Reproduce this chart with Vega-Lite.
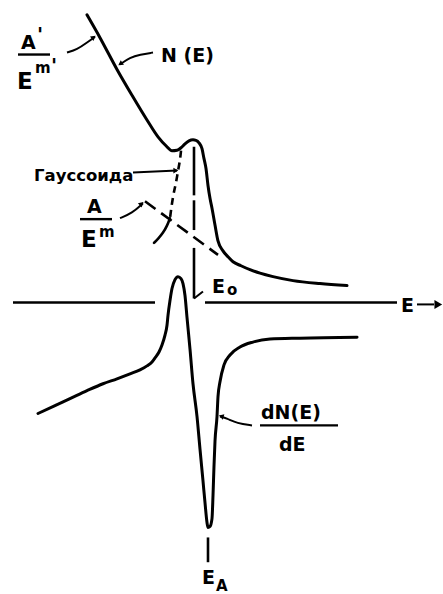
{
  "$schema": "https://vega.github.io/schema/vega-lite/v6.json",
  "width": 443,
  "height": 594,
  "padding": 0,
  "autosize": {"type": "fit", "contains": "padding"},
  "background": "white",
  "config": {"view": {"stroke": null}},
  "datasets": {
    "curves": [
      {"s": "N", "x": 87, "y": 290}, {"s": "N", "x": 100, "y": 267}, {"s": "N", "x": 117, "y": 235},
      {"s": "N", "x": 132, "y": 209}, {"s": "N", "x": 147, "y": 184}, {"s": "N", "x": 158, "y": 167},
      {"s": "N", "x": 166, "y": 158}, {"s": "N", "x": 172, "y": 153}, {"s": "N", "x": 177, "y": 153.5},
      {"s": "N", "x": 181, "y": 156}, {"s": "N", "x": 185, "y": 160}, {"s": "N", "x": 189, "y": 163},
      {"s": "N", "x": 193, "y": 164}, {"s": "N", "x": 196, "y": 163.5}, {"s": "N", "x": 199, "y": 161},
      {"s": "N", "x": 202, "y": 155}, {"s": "N", "x": 204, "y": 145}, {"s": "N", "x": 206, "y": 135},
      {"s": "N", "x": 208, "y": 118}, {"s": "N", "x": 210, "y": 105}, {"s": "N", "x": 212, "y": 95},
      {"s": "N", "x": 215, "y": 78}, {"s": "N", "x": 218, "y": 62}, {"s": "N", "x": 223, "y": 52},
      {"s": "N", "x": 228, "y": 46}, {"s": "N", "x": 233, "y": 41}, {"s": "N", "x": 241, "y": 37},
      {"s": "N", "x": 250, "y": 33}, {"s": "N", "x": 260, "y": 29.5}, {"s": "N", "x": 273, "y": 26},
      {"s": "N", "x": 293, "y": 22}, {"s": "N", "x": 320, "y": 19}, {"s": "N", "x": 347, "y": 17},

      {"s": "D", "x": 38, "y": -112}, {"s": "D", "x": 55, "y": -104}, {"s": "D", "x": 70, "y": -97},
      {"s": "D", "x": 87, "y": -89}, {"s": "D", "x": 103, "y": -82}, {"s": "D", "x": 117, "y": -77},
      {"s": "D", "x": 130, "y": -72}, {"s": "D", "x": 140, "y": -68}, {"s": "D", "x": 147, "y": -64},
      {"s": "D", "x": 152, "y": -60}, {"s": "D", "x": 155, "y": -56}, {"s": "D", "x": 159, "y": -50},
      {"s": "D", "x": 162, "y": -43}, {"s": "D", "x": 165, "y": -33}, {"s": "D", "x": 167, "y": -23},
      {"s": "D", "x": 168, "y": -13}, {"s": "D", "x": 170, "y": 2}, {"s": "D", "x": 172, "y": 14},
      {"s": "D", "x": 175, "y": 23}, {"s": "D", "x": 178, "y": 26}, {"s": "D", "x": 181, "y": 24},
      {"s": "D", "x": 183, "y": 19}, {"s": "D", "x": 185, "y": 7}, {"s": "D", "x": 187, "y": -15},
      {"s": "D", "x": 190, "y": -47}, {"s": "D", "x": 193, "y": -82}, {"s": "D", "x": 197, "y": -115},
      {"s": "D", "x": 200, "y": -148}, {"s": "D", "x": 203, "y": -180}, {"s": "D", "x": 205, "y": -202},
      {"s": "D", "x": 207, "y": -222}, {"s": "D", "x": 208, "y": -227}, {"s": "D", "x": 210, "y": -226},
      {"s": "D", "x": 212, "y": -218}, {"s": "D", "x": 213, "y": -195}, {"s": "D", "x": 214, "y": -165},
      {"s": "D", "x": 215, "y": -140}, {"s": "D", "x": 217, "y": -115}, {"s": "D", "x": 218, "y": -95},
      {"s": "D", "x": 220, "y": -80}, {"s": "D", "x": 224, "y": -63}, {"s": "D", "x": 230, "y": -53},
      {"s": "D", "x": 240, "y": -45}, {"s": "D", "x": 253, "y": -40}, {"s": "D", "x": 270, "y": -37},
      {"s": "D", "x": 300, "y": -36}, {"s": "D", "x": 357, "y": -35}
    ],
    "gauss": [
      {"s": "dash", "i": 0, "x": 181, "y": 153}, {"s": "dash", "i": 1, "x": 180, "y": 143},
      {"s": "dash", "i": 2, "x": 178, "y": 133}, {"s": "dash", "i": 3, "x": 176, "y": 120},
      {"s": "dash", "i": 4, "x": 173, "y": 108}, {"s": "dash", "i": 5, "x": 170, "y": 85},
      {"s": "solid", "i": 0, "x": 170, "y": 85}, {"s": "solid", "i": 1, "x": 167, "y": 77},
      {"s": "solid", "i": 2, "x": 163, "y": 70}, {"s": "solid", "i": 3, "x": 158, "y": 64},
      {"s": "solid", "i": 4, "x": 154, "y": 60}
    ],
    "powerlaw": [
      {"x": 145, "y": 102}, {"x": 218, "y": 48}
    ],
    "leaders": [
      {"s": "a1", "i": 0, "x": 67, "y": 252}, {"s": "a1", "i": 1, "x": 77, "y": 255},
      {"s": "a1", "i": 2, "x": 87, "y": 262}, {"s": "a1", "i": 3, "x": 95, "y": 268},
      {"s": "n", "i": 0, "x": 153, "y": 252}, {"s": "n", "i": 1, "x": 140, "y": 250},
      {"s": "n", "i": 2, "x": 130, "y": 247}, {"s": "n", "i": 3, "x": 120, "y": 240},
      {"s": "g", "i": 0, "x": 133, "y": 131}, {"s": "g", "i": 1, "x": 177, "y": 133},
      {"s": "a", "i": 0, "x": 120, "y": 85}, {"s": "a", "i": 1, "x": 132, "y": 90},
      {"s": "a", "i": 2, "x": 143, "y": 100},
      {"s": "d", "i": 0, "x": 252, "y": -124}, {"s": "d", "i": 1, "x": 237, "y": -122},
      {"s": "d", "i": 2, "x": 227, "y": -117}, {"s": "d", "i": 3, "x": 220, "y": -115},
      {"s": "e0", "i": 0, "x": 194, "y": 4}, {"s": "e0", "i": 1, "x": 203, "y": 11},
      {"s": "ax", "i": 0, "x": 417, "y": -2}, {"s": "ax", "i": 1, "x": 434, "y": -2}
    ],
    "heads": [
      {"x": 93, "y": 267, "a": 53}, {"x": 121, "y": 241, "a": 235},
      {"x": 175, "y": 133, "a": 90}, {"x": 141, "y": 99, "a": 48},
      {"x": 222, "y": -115, "a": 286}
    ],
    "axisHead": [{"x": 437, "y": -2, "a": 90}],
    "hbars": [
      {"x": 13, "x2": 155, "y": 0}, {"x": 205, "x2": 397, "y": 0},
      {"x": 18, "x2": 50, "y": 250}, {"x": 80, "x2": 112, "y": 84},
      {"x": 260, "x2": 338, "y": -124}
    ],
    "vsegs": [
      {"x": 194, "y": 157, "y2": 108}, {"x": 194, "y": 103, "y2": 73},
      {"x": 194, "y": 55, "y2": 4}, {"x": 208, "y": -237, "y2": -262}
    ],
    "labels": [
      {"t": "A", "x": 21, "y": 256}, {"t": "N (E)", "x": 161, "y": 242},
      {"t": "A", "x": 87, "y": 90},
      {"t": "E", "x": 212, "y": 10}, {"t": "E", "x": 401, "y": -10},
      {"t": "dN(E)", "x": 261, "y": -118}, {"t": "dE", "x": 279, "y": -150},
      {"t": "E", "x": 202, "y": -284}
    ],
    "bigE": [
      {"t": "E", "x": 17, "y": 215}, {"t": "E", "x": 81, "y": 56}
    ],
    "small": [
      {"t": "m", "x": 35, "y": 231}, {"t": "m", "x": 99, "y": 66},
      {"t": "o", "x": 227, "y": 7}, {"t": "A", "x": 216, "y": -291}
    ],
    "primes": [
      {"t": "'", "x": 37, "y": 280}, {"t": "'", "x": 51, "y": 249}
    ],
    "gaussLabel": [{"t": "Гауссоида", "x": 34, "y": 122}]
  },
  "encoding": {
    "x": {"field": "x", "type": "quantitative", "scale": {"domain": [0, 443], "nice": false, "zero": false}, "axis": null},
    "y": {"field": "y", "type": "quantitative", "scale": {"domain": [-289, 305], "nice": false, "zero": false}, "axis": null}
  },
  "layer": [
    {
      "data": {"name": "curves"},
      "mark": {"type": "line", "color": "black", "strokeWidth": 3, "interpolate": "monotone", "strokeCap": "round"},
      "encoding": {"detail": {"field": "s"}}
    },
    {
      "data": {"name": "gauss"},
      "transform": [{"filter": "datum.s === 'dash'"}],
      "mark": {"type": "line", "color": "black", "strokeWidth": 2.6, "interpolate": "basis", "strokeDash": [7, 5]},
      "encoding": {"order": {"field": "i"}}
    },
    {
      "data": {"name": "gauss"},
      "transform": [{"filter": "datum.s === 'solid'"}],
      "mark": {"type": "line", "color": "black", "strokeWidth": 2.6, "interpolate": "basis", "strokeCap": "round"},
      "encoding": {"order": {"field": "i"}}
    },
    {
      "data": {"name": "powerlaw"},
      "mark": {"type": "line", "color": "black", "strokeWidth": 2.6, "strokeDash": [13, 7]},
      "encoding": {}
    },
    {
      "data": {"name": "leaders"},
      "mark": {"type": "line", "color": "black", "strokeWidth": 2, "interpolate": "basis"},
      "encoding": {"detail": {"field": "s"}, "order": {"field": "i"}}
    },
    {
      "data": {"name": "heads"},
      "mark": {"type": "point", "shape": "triangle", "filled": true, "color": "black", "size": 32, "opacity": 1},
      "encoding": {"angle": {"field": "a", "type": "quantitative", "scale": null}}
    },
    {
      "data": {"name": "axisHead"},
      "mark": {"type": "point", "shape": "triangle", "filled": true, "color": "black", "size": 80, "opacity": 1},
      "encoding": {"angle": {"field": "a", "type": "quantitative", "scale": null}}
    },
    {
      "data": {"name": "hbars"},
      "mark": {"type": "rule", "color": "black", "strokeWidth": 2.4},
      "encoding": {"x2": {"field": "x2"}}
    },
    {
      "data": {"name": "vsegs"},
      "mark": {"type": "rule", "color": "black", "strokeWidth": 2.6},
      "encoding": {"y2": {"field": "y2"}}
    },
    {
      "data": {"name": "labels"},
      "mark": {"type": "text", "font": "DejaVu Sans", "fontWeight": "bold", "fontSize": 19, "align": "left", "baseline": "alphabetic", "color": "black"},
      "encoding": {"text": {"field": "t"}}
    },
    {
      "data": {"name": "bigE"},
      "mark": {"type": "text", "font": "DejaVu Sans", "fontWeight": "bold", "fontSize": 23, "align": "left", "baseline": "alphabetic", "color": "black"},
      "encoding": {"text": {"field": "t"}}
    },
    {
      "data": {"name": "small"},
      "mark": {"type": "text", "font": "DejaVu Sans", "fontWeight": "bold", "fontSize": 15, "align": "left", "baseline": "alphabetic", "color": "black"},
      "encoding": {"text": {"field": "t"}}
    },
    {
      "data": {"name": "primes"},
      "mark": {"type": "text", "font": "DejaVu Sans", "fontWeight": "bold", "fontSize": 20, "align": "left", "baseline": "top", "color": "black"},
      "encoding": {"text": {"field": "t"}}
    },
    {
      "data": {"name": "gaussLabel"},
      "mark": {"type": "text", "font": "DejaVu Sans", "fontWeight": "bold", "fontSize": 16.5, "align": "left", "baseline": "alphabetic", "color": "black"},
      "encoding": {"text": {"field": "t"}}
    }
  ]
}
